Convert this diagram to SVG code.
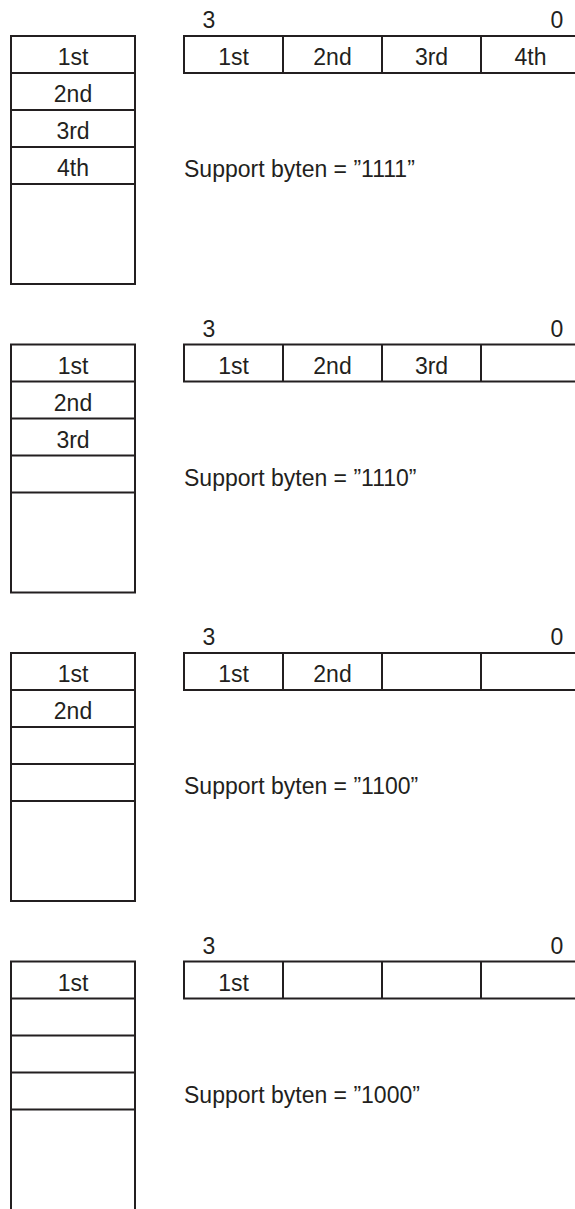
<svg xmlns="http://www.w3.org/2000/svg" width="575" height="1209" viewBox="0 0 575 1209">
<style>
.b{fill:#fff;stroke:#231f20;stroke-width:2}
.l{stroke:#231f20;stroke-width:2;fill:none}
text{font-family:"Liberation Sans",Arial,sans-serif;font-size:23px;fill:#231f20}
.c{text-anchor:middle}
</style>
<rect width="575" height="1209" fill="#fff"/>
<g id="panel1">
<g id="stack1"><rect class="b" x="11" y="36" width="124" height="248"/>
<path class="l" d="M11 73H135M11 110H135M11 147H135M11 184H135"/>
<text class="c" x="73" y="65">1st</text><text class="c" x="73" y="102">2nd</text><text class="c" x="73" y="139">3rd</text><text class="c" x="73" y="176">4th</text></g>
<g id="reg1"><rect class="b" x="184" y="36" width="396" height="37"/>
<path class="l" d="M283 36V73M382 36V73M481 36V73"/>
<text x="209" y="28" class="c">3</text><text x="557" y="28" class="c">0</text>
<text class="c" x="233.5" y="65">1st</text><text class="c" x="332.5" y="65">2nd</text><text class="c" x="431.5" y="65">3rd</text><text class="c" x="530.5" y="65">4th</text></g>
<text id="sb1" x="184" y="177">Support byten = ”1111”</text>
</g>
<g id="panel2" transform="translate(0,308.5)">
<g id="stack2"><rect class="b" x="11" y="36" width="124" height="248"/>
<path class="l" d="M11 73H135M11 110H135M11 147H135M11 184H135"/>
<text class="c" x="73" y="65">1st</text><text class="c" x="73" y="102">2nd</text><text class="c" x="73" y="139">3rd</text></g>
<g id="reg2"><rect class="b" x="184" y="36" width="396" height="37"/>
<path class="l" d="M283 36V73M382 36V73M481 36V73"/>
<text x="209" y="28" class="c">3</text><text x="557" y="28" class="c">0</text>
<text class="c" x="233.5" y="65">1st</text><text class="c" x="332.5" y="65">2nd</text><text class="c" x="431.5" y="65">3rd</text></g>
<text id="sb2" x="184" y="177">Support byten = ”1110”</text>
</g>
<g id="panel3" transform="translate(0,617)">
<g id="stack3"><rect class="b" x="11" y="36" width="124" height="248"/>
<path class="l" d="M11 73H135M11 110H135M11 147H135M11 184H135"/>
<text class="c" x="73" y="65">1st</text><text class="c" x="73" y="102">2nd</text></g>
<g id="reg3"><rect class="b" x="184" y="36" width="396" height="37"/>
<path class="l" d="M283 36V73M382 36V73M481 36V73"/>
<text x="209" y="28" class="c">3</text><text x="557" y="28" class="c">0</text>
<text class="c" x="233.5" y="65">1st</text><text class="c" x="332.5" y="65">2nd</text></g>
<text id="sb3" x="184" y="177">Support byten = ”1100”</text>
</g>
<g id="panel4" transform="translate(0,925.5)">
<g id="stack4"><rect class="b" x="11" y="36" width="124" height="260"/>
<path class="l" d="M11 73H135M11 110H135M11 147H135M11 184H135"/>
<text class="c" x="73" y="65">1st</text></g>
<g id="reg4"><rect class="b" x="184" y="36" width="396" height="37"/>
<path class="l" d="M283 36V73M382 36V73M481 36V73"/>
<text x="209" y="28" class="c">3</text><text x="557" y="28" class="c">0</text>
<text class="c" x="233.5" y="65">1st</text></g>
<text id="sb4" x="184" y="177">Support byten = ”1000”</text>
</g>
<g id="connectors"/>
</svg>
